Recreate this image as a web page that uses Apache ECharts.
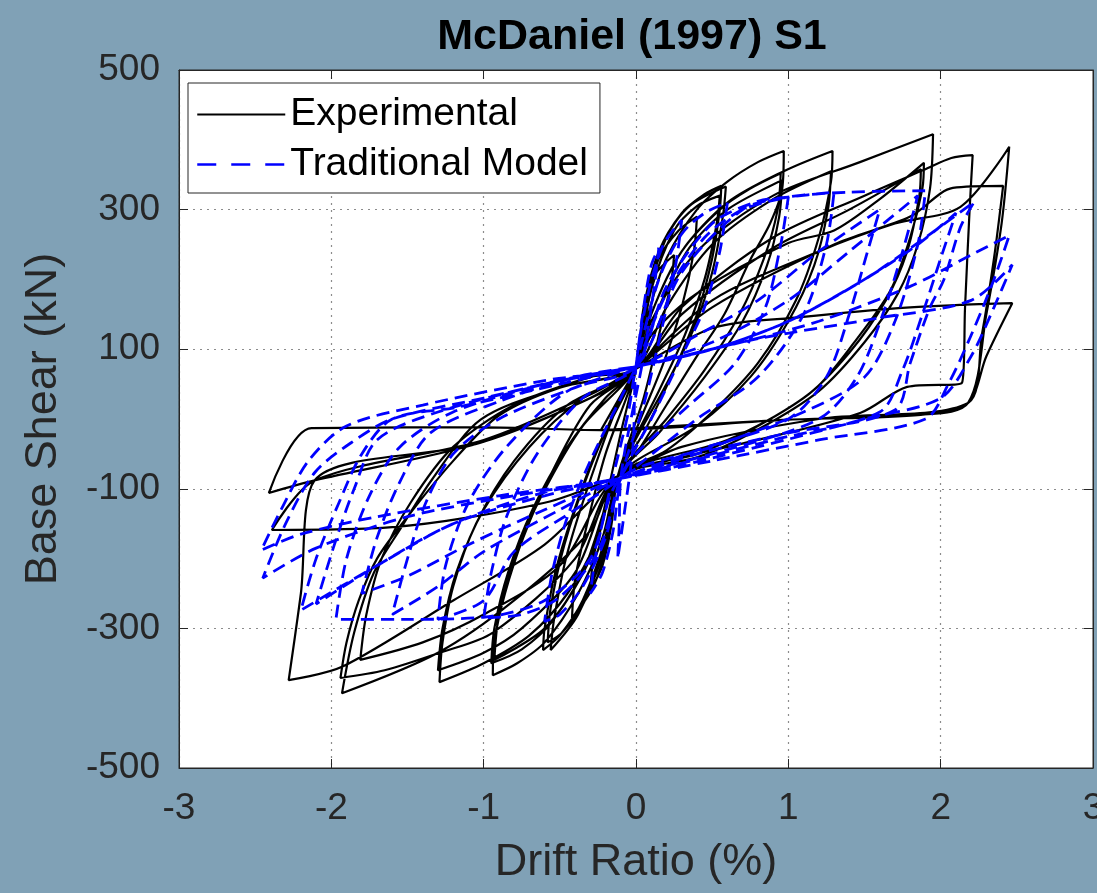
<!DOCTYPE html>
<html>
<head>
<meta charset="utf-8">
<script src="https://cdn.jsdelivr.net/npm/echarts@6/dist/echarts.min.js"></script>
<style>
  html, body { margin: 0; padding: 0; background: #80a1b6; overflow: hidden; }
  #chart { width: 1097px; height: 893px; }
</style>
</head>
<body>
<div id="chart"></div>
<script>
// Axis ticks
const driftTicks = [-3, -2, -1, 0, 1, 2, 3];
const shearTicks = [-500, -300, -100, 100, 300, 500];

// Experimental hysteresis, one array per cycle: [drift %, base shear kN]
const exp01 = [[0.0,72],[0.05,150],[0.12,205],[0.25,235],[0.25,235],[0.23,195],[0.15,120],[0.05,30],[-0.12,-82],[-0.16,-150],[-0.22,-210],[-0.3,-245],[-0.3,-245],[-0.28,-200],[-0.2,-120],[-0.1,-20],[0.0,72]];
const exp02 = [[0.0,72],[0.06,160],[0.15,230],[0.28,270],[0.4,290],[0.4,290],[0.38,240],[0.3,160],[0.18,80],[0.03,0],[-0.12,-82],[-0.18,-170],[-0.28,-240],[-0.42,-285],[-0.42,-285],[-0.4,-230],[-0.32,-150],[-0.2,-50],[0.0,72]];
const exp03 = [[0.0,72],[0.05,160],[0.15,240],[0.3,295],[0.45,322],[0.56,334],[0.56,334],[0.55,300],[0.5,230],[0.4,150],[0.25,70],[0.05,-20],[-0.12,-82],[-0.2,-170],[-0.35,-260],[-0.5,-310],[-0.61,-331],[-0.61,-331],[-0.6,-300],[-0.53,-220],[-0.42,-140],[-0.25,-40],[0.0,72]];
const exp04 = [[0.0,72],[0.08,175],[0.2,260],[0.35,305],[0.59,333],[0.59,333],[0.57,290],[0.5,210],[0.38,130],[0.2,50],[-0.12,-82],[-0.22,-190],[-0.38,-280],[-0.56,-331],[-0.56,-331],[-0.54,-290],[-0.46,-200],[-0.32,-100],[-0.12,20],[0.0,72]];
const exp05 = [[0.0,72],[0.1,185],[0.25,270],[0.4,305],[0.55,320],[0.55,320],[0.53,280],[0.45,200],[0.32,120],[0.15,40],[-0.12,-82],[-0.2,-180],[-0.34,-260],[-0.48,-305],[-0.58,-320],[-0.58,-320],[-0.56,-270],[-0.47,-180],[-0.3,-70],[-0.1,30],[0.0,72]];
const exp06 = [[0.0,72],[0.08,150],[0.2,230],[0.4,300],[0.6,340],[0.8,368],[0.97,384],[0.97,384],[0.96,330],[0.88,280],[0.75,228],[0.58,150],[0.4,90],[0.2,20],[0.0,-50],[-0.12,-82],[-0.22,-170],[-0.38,-250],[-0.6,-320],[-0.78,-350],[-0.94,-367],[-0.94,-367],[-0.93,-320],[-0.86,-250],[-0.74,-170],[-0.56,-80],[-0.3,20],[0.0,72]];
const exp07 = [[0.0,72],[0.1,150],[0.3,240],[0.55,300],[0.75,330],[0.95,352],[0.95,352],[0.93,300],[0.84,230],[0.68,150],[0.45,70],[0.2,0],[-0.12,-82],[-0.3,-200],[-0.55,-290],[-0.75,-330],[-0.95,-350],[-0.95,-350],[-0.93,-300],[-0.84,-220],[-0.68,-130],[-0.45,-40],[-0.2,30],[0.0,72]];
const exp08 = [[0.0,72],[0.15,160],[0.35,245],[0.6,300],[0.96,342],[0.96,342],[0.94,290],[0.86,220],[0.7,140],[0.45,60],[0.15,-20],[-0.12,-82],[-0.35,-220],[-0.6,-300],[-0.93,-345],[-0.93,-345],[-0.9,-280],[-0.8,-200],[-0.62,-110],[-0.35,-10],[0.0,72]];
const exp09 = [[0.0,72],[0.1,150],[0.3,240],[0.6,310],[0.97,355],[1.29,384],[1.29,384],[1.28,340],[1.2,260],[1.05,170],[0.8,80],[0.5,10],[0.2,-45],[-0.12,-82],[-0.25,-170],[-0.45,-250],[-0.7,-310],[-1.0,-350],[-1.29,-377],[-1.29,-377],[-1.27,-320],[-1.2,-240],[-1.05,-150],[-0.8,-60],[-0.45,20],[0.0,72]];
const exp10 = [[0.0,72],[0.2,160],[0.5,250],[0.9,315],[1.28,355],[1.28,355],[1.26,300],[1.17,220],[1.0,140],[0.75,60],[0.4,-10],[-0.12,-82],[-0.4,-220],[-0.75,-300],[-1.0,-335],[-1.3,-360],[-1.3,-360],[-1.27,-300],[-1.18,-220],[-1.0,-130],[-0.7,-40],[-0.35,30],[0.0,72]];
const exp11 = [[0.0,72],[0.1,120],[0.4,180],[1.0,252],[1.3,270],[1.6,315],[1.89,367],[1.89,367],[1.88,330],[1.8,260],[1.67,184],[1.43,109],[1.17,42],[0.8,-10],[0.4,-50],[-0.12,-82],[-0.4,-200],[-0.94,-306],[-1.29,-335],[-1.65,-360],[-1.94,-371],[-1.94,-371],[-1.9,-320],[-1.82,-260],[-1.7,-200],[-1.5,-140],[-1.2,-60],[-0.9,5],[-0.5,45],[0.0,72]];
const exp12 = [[0.0,72],[0.1,140],[0.4,240],[0.9,320],[1.47,368],[1.95,408],[1.95,408],[1.93,330],[1.85,250],[1.72,180],[1.5,110],[1.2,40],[0.8,-15],[0.4,-55],[-0.12,-82],[-0.3,-160],[-0.8,-260],[-1.3,-335],[-1.93,-393],[-1.93,-393],[-1.85,-306],[-1.72,-220],[-1.54,-155],[-1.34,-87],[-1.02,-1],[-0.5,45],[0.0,72]];
const exp13 = [[0.0,72],[0.3,150],[0.9,245],[1.4,300],[1.87,358],[1.87,358],[1.86,320],[1.78,240],[1.64,170],[1.4,95],[1.1,30],[0.6,-30],[-0.12,-82],[-0.5,-210],[-1.0,-280],[-1.4,-320],[-1.81,-345],[-1.81,-345],[-1.77,-280],[-1.67,-200],[-1.48,-120],[-1.2,-40],[-0.8,20],[-0.3,60],[0.0,72]];
const exp14 = [[0.0,72],[0.3,160],[0.9,260],[1.5,320],[1.89,357],[2.07,374],[2.21,378],[2.21,378],[2.19,300],[2.16,160],[2.14,52],[2.14,52],[1.78,46],[1.475,9],[0.8,-30],[0.2,-60],[-0.12,-82],[-0.6,-180],[-1.2,-260],[-1.93,-355],[-2.28,-374],[-2.28,-374],[-2.2,-250],[-2.11,-88],[-2.11,-88],[-1.02,-34],[-0.2,40],[0.0,72]];
const exp15 = [[0.0,72],[0.5,170],[1.2,240],[1.7,280],[2.13,304],[2.45,390],[2.45,390],[2.4,280],[2.3,150],[2.18,23],[2.18,23],[1.87,6],[1.0,-1],[-0.23,-16],[-1.0,-12],[-2.13,-13],[-2.13,-13],[-2.41,-106],[-2.41,-106],[-2.11,-88],[-1.02,-34],[-0.3,30],[0.0,72]];
const exp16 = [[0.0,72],[0.5,160],[1.3,250],[1.8,290],[2.08,331],[2.08,331],[2.41,334],[2.41,334],[2.35,230],[2.27,120],[2.18,23],[2.18,23],[1.2,0],[0.3,-40],[-0.12,-82],[-0.6,-120],[-1.6,-155],[-2.39,-159],[-2.39,-159],[-2.11,-88],[-1.0,-30],[-0.3,35],[0.0,72]];
const exp17 = [[0.0,72],[0.0,72],[0.5,130],[1.08,146],[1.8,160],[2.47,166],[2.47,166],[2.3,90],[2.18,23],[2.18,23],[1.87,6],[1.0,-1],[-0.23,-16],[0.0,72]];

// Traditional model hysteresis, one array per cycle
const mod01 = [[0.0,75],[0.05,160],[0.1,220],[0.15,245],[0.15,245],[0.12,190],[0.05,90],[-0.1,-85],[-0.11,-150],[-0.12,-200],[-0.12,-200],[-0.08,-140],[-0.02,-40],[0.0,75]];
const mod02 = [[0.0,75],[0.08,180],[0.18,250],[0.3,285],[0.3,285],[0.26,220],[0.17,130],[0.05,20],[-0.1,-85],[-0.15,-160],[-0.22,-220],[-0.3,-250],[-0.3,-250],[-0.26,-190],[-0.17,-100],[-0.05,10],[0.0,75]];
const mod03 = [[0.0,75],[0.15,200],[0.3,265],[0.45,295],[0.6,310],[0.6,310],[0.55,240],[0.45,160],[0.3,90],[0.1,0],[-0.1,-85],[-0.2,-170],[-0.35,-240],[-0.5,-280],[-0.6,-290],[-0.6,-290],[-0.55,-220],[-0.45,-140],[-0.3,-60],[-0.1,30],[0.0,75]];
const mod04 = [[0.0,75],[0.2,180],[0.45,260],[0.7,300],[1.0,318],[1.0,318],[0.95,250],[0.85,160],[0.65,80],[0.35,20],[0.0,-50],[-0.1,-85],[-0.25,-190],[-0.5,-255],[-0.75,-280],[-1.0,-285],[-1.0,-285],[-0.95,-220],[-0.85,-140],[-0.65,-50],[-0.35,30],[0.0,75]];
const mod05 = [[0.0,75],[0.2,190],[0.5,280],[0.8,312],[1.0,318],[1.3,325],[1.3,325],[1.25,250],[1.1,150],[0.8,60],[0.4,0],[-0.1,-85],[-0.4,-130],[-0.8,-190],[-1.0,-260],[-1.3,-287],[-1.3,-287],[-1.25,-210],[-1.1,-120],[-0.85,-40],[-0.45,40],[0.0,75]];
const mod06 = [[0.0,75],[0.3,210],[0.7,300],[1.0,318],[1.4,325],[1.9,327],[1.9,327],[1.85,250],[1.7,140],[1.5,60],[1.1,10],[0.5,-40],[-0.1,-85],[-0.3,-200],[-0.6,-260],[-1.0,-284],[-1.5,-287],[-1.97,-287],[-1.97,-287],[-1.9,-200],[-1.75,-110],[-1.55,-40],[-1.2,10],[-0.6,50],[0.0,75]];
const mod07 = [[0.0,75],[0.5,100],[1.0,140],[1.5,200],[1.9,260],[2.22,311],[2.22,311],[2.13,275],[2.02,199],[1.93,160],[1.8,80],[1.7,13],[1.0,-20],[0.4,-50],[-0.1,-85],[-0.6,-105],[-1.2,-150],[-1.7,-210],[-2.2,-274],[-2.2,-274],[-2.1,-200],[-1.95,-120],[-1.8,-50],[-1.6,0],[-1.17,17],[-0.5,50],[0.0,75]];
const mod08 = [[0.0,75],[0.6,105],[1.2,140],[1.8,190],[2.2,235],[2.45,263],[2.45,263],[2.35,200],[2.2,120],[2.05,50],[1.9,0],[1.2,-30],[0.5,-60],[-0.1,-85],[-0.8,-110],[-1.5,-140],[-2.1,-185],[-2.45,-228],[-2.45,-228],[-2.3,-150],[-2.11,-77],[-1.87,-34],[-1.6,0],[-1.0,30],[-0.4,60],[0.0,75]];
const mod09 = [[0.0,75],[0.8,115],[1.6,145],[2.2,170],[2.47,221],[2.47,221],[2.35,160],[2.2,90],[2.0,30],[1.5,0],[0.8,-40],[-0.1,-85],[-0.9,-110],[-1.7,-140],[-2.2,-165],[-2.46,-188],[-2.46,-188],[-2.33,-130],[-2.15,-60],[-1.9,-10],[-1.4,20],[-0.6,55],[0.0,75]];
const mod10 = [[0.0,75],[0.4,120],[0.8,170],[1.2,240],[1.6,300],[1.6,300],[1.52,240],[1.4,150],[1.25,60],[1.0,0],[0.4,-45],[-0.1,-85],[-0.5,-130],[-1.0,-190],[-1.3,-240],[-1.6,-280],[-1.6,-280],[-1.5,-200],[-1.38,-120],[-1.2,-50],[-0.9,0],[-0.4,45],[0.0,75]];
const mod11 = [[0.0,75],[0.5,100],[1.0,140],[1.5,200],[1.85,250],[2.1,295],[2.1,295],[2.0,230],[1.88,150],[1.75,70],[1.6,10],[0.9,-30],[-0.1,-85],[-0.6,-110],[-1.2,-150],[-1.7,-210],[-2.1,-265],[-2.1,-265],[-1.98,-180],[-1.85,-100],[-1.7,-30],[-1.3,10],[-0.6,50],[0.0,75]];
const mod12 = [[0.0,75],[0.5,110],[1.0,170],[1.4,240],[1.85,320],[1.85,320],[1.75,240],[1.62,150],[1.45,60],[1.2,0],[0.5,-50],[-0.1,-85],[-0.6,-130],[-1.1,-180],[-1.5,-225],[-1.8,-250],[-1.8,-250],[-1.7,-170],[-1.55,-90],[-1.35,-20],[-0.9,25],[-0.4,60],[0.0,75]];

const experimental = [].concat(exp01, exp02, exp03, exp04, exp05, exp06, exp07, exp08, exp09,
  exp10, exp11, exp12, exp13, exp14, exp15, exp16, exp17);
const traditional = [].concat(mod01, mod02, mod03, mod04, mod05, mod06, mod07, mod08, mod09,
  mod10, mod11, mod12);

const FONT = 'Liberation Sans, Arial, Helvetica, sans-serif';
const INK = '#262626';
const GRID = { left: 179, right: 4, top: 70, bottom: 125 };
const TITLE_X = 632;

const dotted = { color: '#8c8c8c', width: 1.2, type: [2, 5] };

function valueAxis(min, max, interval, position, withLabels, name) {
  const horizontal = position === 'bottom' || position === 'top';
  return {
    type: 'value', min: min, max: max, interval: interval, position: position,
    gridIndex: 0,
    name: withLabels ? name : '',
    nameLocation: 'middle',
    nameGap: horizontal ? 72 : 113,
    nameTextStyle: { fontFamily: FONT, fontSize: 45, color: INK },
    axisLine: { show: true, onZero: false, lineStyle: { color: INK, width: 1 } },
    axisTick: { show: true, inside: true, length: 9, lineStyle: { color: INK, width: 1 } },
    axisLabel: {
      show: withLabels, fontFamily: FONT, fontSize: 37, color: INK,
      margin: horizontal ? 22 : 19,
      formatter: v => String(v)
    },
    splitLine: { show: withLabels, lineStyle: dotted }
  };
}

const chart = echarts.init(document.getElementById('chart'), null, { renderer: 'canvas' });
chart.setOption({
  animation: false,
  backgroundColor: '#80a1b6',
  grid: Object.assign({
    show: true, backgroundColor: '#ffffff', borderColor: INK, borderWidth: 1,
    containLabel: false, outerBoundsMode: 'none'
  }, GRID),
  graphic: [{
    type: 'text', x: TITLE_X, y: 37,
    style: { text: 'McDaniel (1997) S1', font: 'bold 43px ' + FONT, fill: '#000', align: 'center', verticalAlign: 'middle' },
    z: 10
  }],
  legend: {
    data: [
      { name: 'Experimental' },
      { name: 'Traditional Model', lineStyle: { type: [19, 15], width: 2.5 } }
    ],
    orient: 'vertical', left: 188, top: 83,
    itemWidth: 88, itemHeight: 20, itemGap: 11,
    padding: [12, 12, 9, 8],
    backgroundColor: '#ffffff', borderColor: INK, borderWidth: 1,
    itemStyle: { opacity: 0, borderWidth: 0 },
    textStyle: { fontFamily: FONT, fontSize: 39, color: '#000' }
  },
  xAxis: [
    valueAxis(driftTicks[0], driftTicks[driftTicks.length - 1], 1, 'bottom', true, 'Drift Ratio (%)'),
    valueAxis(driftTicks[0], driftTicks[driftTicks.length - 1], 1, 'top', false, '')
  ],
  yAxis: [
    valueAxis(shearTicks[0], shearTicks[shearTicks.length - 1], 200, 'left', true, 'Base Shear (kN)'),
    valueAxis(shearTicks[0], shearTicks[shearTicks.length - 1], 200, 'right', false, '')
  ],
  series: [
    {
      name: 'Experimental', type: 'line', data: experimental,
      xAxisIndex: 0, yAxisIndex: 0,
      symbol: 'none', showSymbol: false, smooth: 0.3, clip: true,
      lineStyle: { color: '#000000', width: 2.2 },
      itemStyle: { color: '#000000' }
    },
    {
      name: 'Traditional Model', type: 'line', data: traditional,
      xAxisIndex: 0, yAxisIndex: 0,
      symbol: 'none', showSymbol: false, smooth: 0.3, clip: true,
      lineStyle: { color: '#0000ff', width: 2.8, type: [13, 7] },
      itemStyle: { color: '#0000ff' }
    }
  ]
});
</script>
</body>
</html>
